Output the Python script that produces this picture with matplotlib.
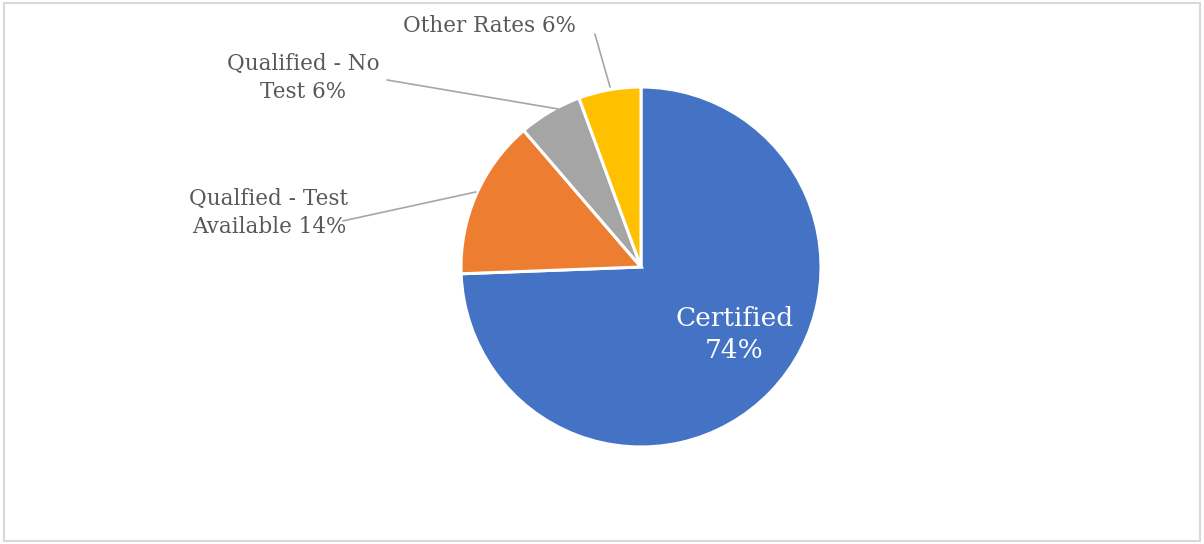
import matplotlib.pyplot as plt
from matplotlib.patches import Rectangle

labels = ["Certified", "Qualfied - Test\nAvailable", "Qualified - No\nTest", "Other Rates"]
values = [74.4, 14.3, 5.7, 5.6]
colors = ["#4472C4", "#ED7D31", "#A5A5A5", "#FFC000"]

plt.rcParams['font.family'] = ['DejaVu Serif']

fig = plt.figure(figsize=(12.04, 5.44), dpi=100)
# chart border
fig.patches.append(Rectangle((4/1204, 3/544), 1196/1204, 538/544, transform=fig.transFigure,
                             fill=False, edgecolor="#D9D9D9", linewidth=1.5))

ax = fig.add_axes([461/1204, 97/544, 360/1204, 360/544])
wedges, _ = ax.pie(values, colors=colors, startangle=90, counterclock=False,
                   radius=1.0, wedgeprops=dict(edgecolor="white", linewidth=2.2))
ax.set_xlim(-1, 1)
ax.set_ylim(-1, 1)
ax.set_aspect("equal")

pct = [f"{round(v)}%" for v in values]

# inside label for the big slice
ax.text(0.52, -0.375, f"{labels[0]}\n{pct[0]}", color="white", fontsize=19,
        ha="center", va="center", linespacing=1.3)

txt = "#595959"
line = dict(arrowstyle="-", color="#A6A6A6", lw=1.2, shrinkA=0, shrinkB=0)

# Other Rates: elbow leader
ax.annotate("", xy=(-0.172, 1.0), xytext=(-0.256, 1.294), arrowprops=line)
ax.annotate("", xy=(-0.256, 1.294), xytext=(-0.328, 1.294), arrowprops=line)
ax.text(-0.839, 1.339, f"{labels[3]} {pct[3]}", color=txt, fontsize=15.5,
        ha="center", va="center")

# Qualified - No Test
ax.annotate("", xy=(-0.461, 0.878), xytext=(-1.411, 1.039), arrowprops=line)
ax.annotate("", xy=(-1.411, 1.039), xytext=(-1.478, 1.039), arrowprops=line)
ax.text(-1.878, 1.05, f"{labels[2]} {pct[2]}", color=txt, fontsize=15.5,
        ha="center", va="center", linespacing=1.35)

# Qualfied - Test Available
ax.annotate("", xy=(-0.917, 0.417), xytext=(-1.656, 0.256), arrowprops=line)
ax.text(-2.067, 0.30, f"{labels[1]} {pct[1]}", color=txt, fontsize=15.5,
        ha="center", va="center", linespacing=1.35)

fig.savefig("out.png", dpi=100)
